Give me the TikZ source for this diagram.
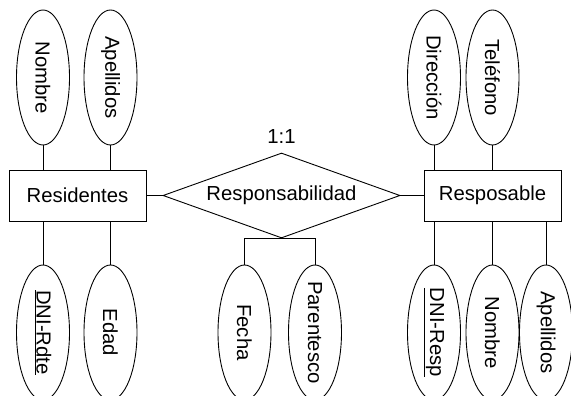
\documentclass[tikz,border=0pt]{standalone}
\usepackage{fontspec}
\setmainfont{Liberation Sans}
\usetikzlibrary{shapes.geometric,positioning}

\begin{document}
\begin{tikzpicture}[x=1pt, y=-1pt, on grid, line width=0.9pt,
    font=\fontsize{20.3}{24}\selectfont,
    entity/.style={draw, rectangle, minimum width=137pt, minimum height=51pt, inner sep=0pt},
    attr/.style={draw, ellipse, minimum width=135pt, minimum height=53pt, inner sep=0pt, rotate=-90},
    rel/.style={draw, diamond, aspect=2.79, minimum width=237pt, minimum height=85pt, inner sep=0pt}]
      \useasboundingbox (0,0) rectangle (571,396);

      \node[entity] (res)  at (77.5,195.5)  {Residentes};
      \node[rel]    (resp) at (281.5,195.5) {Responsabilidad};
      \node[entity] (rsb)  at (492.5,195.5) {Resposable};
      \node         (card) at (281.5,137)   {1:1};

      \node[attr] (nom1) [above left=118pt and 34.5pt of res]  {\makebox[0pt]{Nombre}};
      \node[attr] (ape1) [above right=118pt and 33pt of res]   {\makebox[0pt]{Apellidos}};
      \node[attr] (dni1) [below left=137pt and 34.5pt of res]  {\makebox[0pt]{\underline{DNI-Rdte}}};
      \node[attr] (edad) [below right=137pt and 33pt of res]   {\makebox[0pt]{Edad}};

      \node[attr] (fech) [below left=137pt and 37pt of resp]   {\makebox[0pt]{Fecha}};
      \node[attr] (par)  [below right=137pt and 33.5pt of resp] {\makebox[0pt]{Parentesco}};

      \node[attr] (dir)  [above left=118pt and 58.5pt of rsb]  {\makebox[0pt]{Dirección}};
      \node[attr] (tel)  [above=118pt of rsb]                  {\makebox[0pt]{Teléfono}};
      \node[attr] (dni2) [below left=137pt and 58.5pt of rsb]  {\makebox[0pt]{\underline{DNI-Resp}}};
      \node[attr] (nom2) [below=137pt of rsb]                  {\makebox[0pt]{Nombre}};
      \node[attr] (ape2) [below right=137pt and 53.5pt of rsb] {\makebox[0pt]{Apellidos}};

      \path[draw]
        (res.east) edge (resp.west)
        (resp.east) edge (rsb.west)
        (nom1.east) edge (nom1.east |- res.north)
        (ape1.east) edge (ape1.east |- res.north)
        (dni1.west) edge (dni1.west |- res.south)
        (edad.west) edge (edad.west |- res.south)
        (dir.east) edge (dir.east |- rsb.north)
        (tel.east) edge (tel.east |- rsb.north)
        (dni2.west) edge (dni2.west |- rsb.south)
        (nom2.west) edge (nom2.west |- rsb.south)
        (ape2.west) edge (ape2.west |- rsb.south);
      \draw (resp.south) -| (fech.west);
      \draw (resp.south) -| (par.west);
    \end{tikzpicture}
\end{document}
